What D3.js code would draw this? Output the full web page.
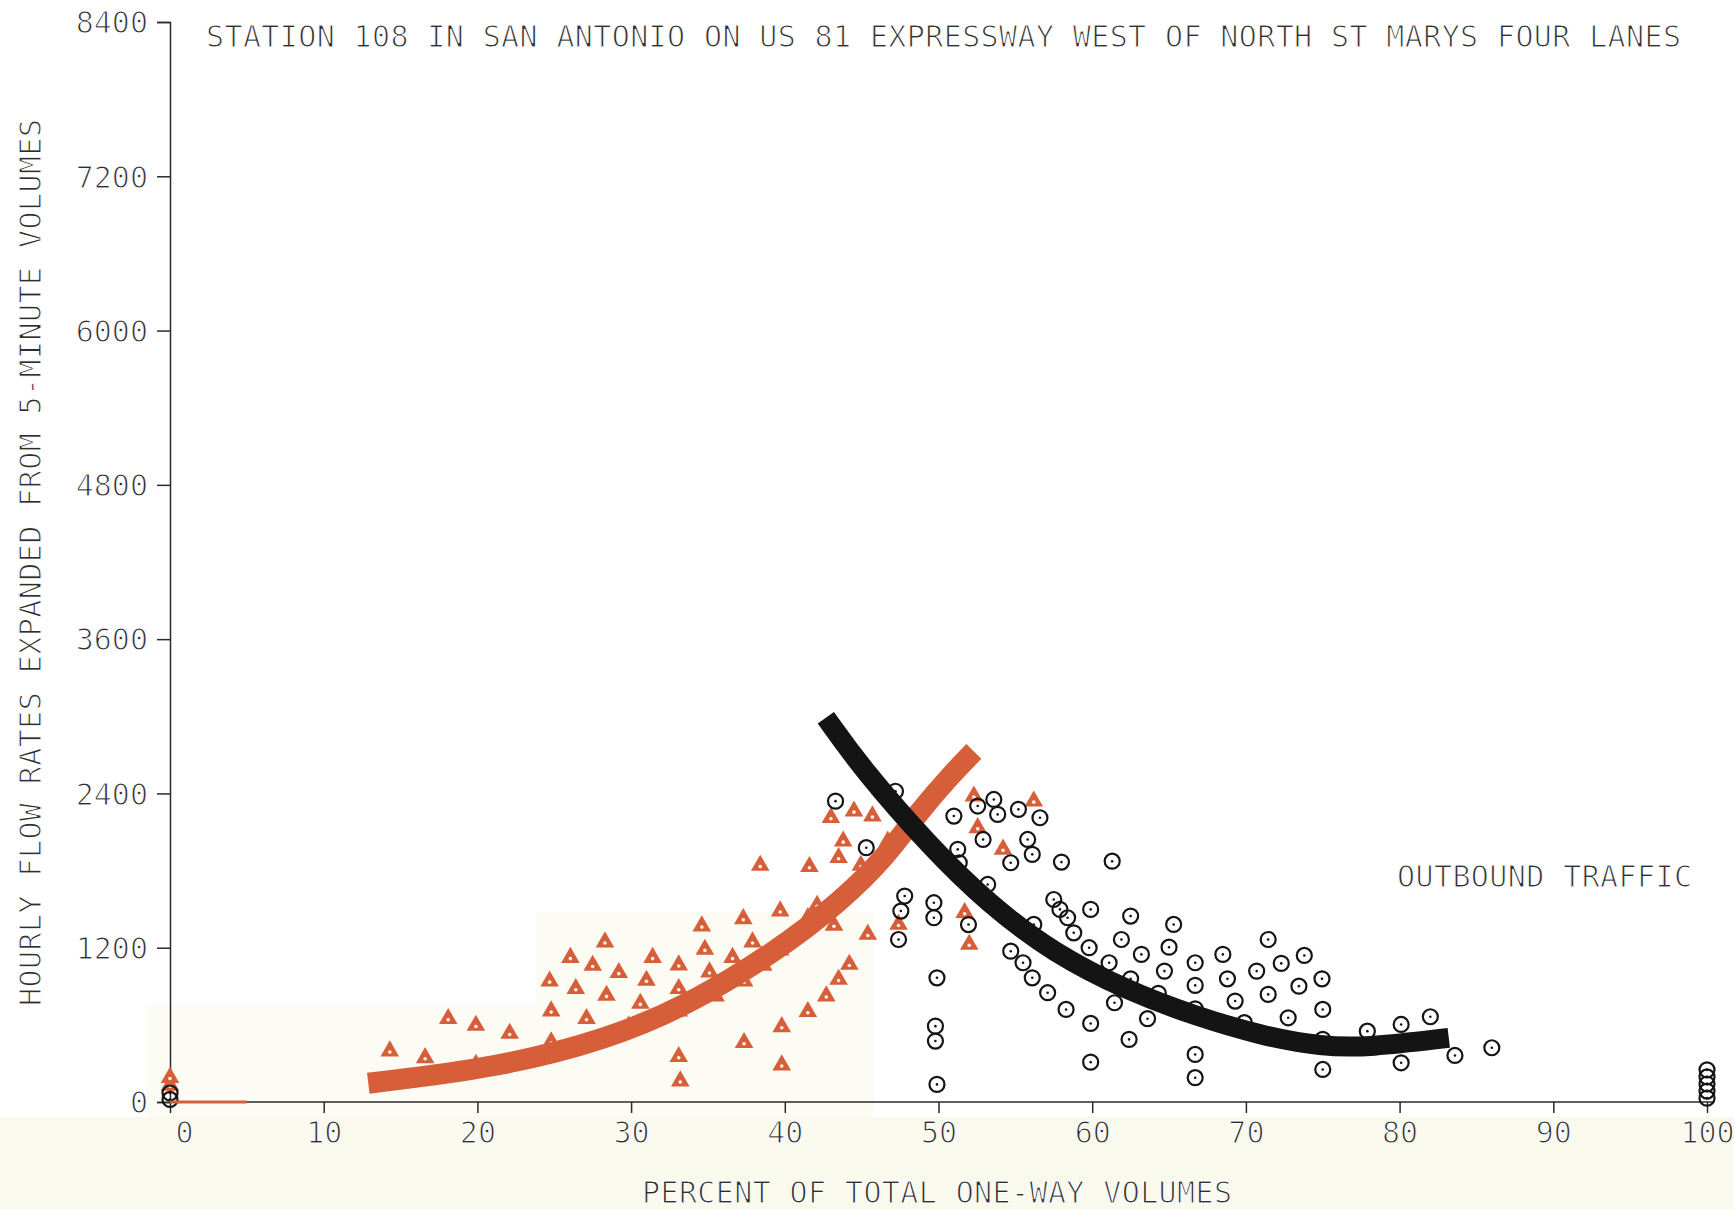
<!DOCTYPE html>
<html>
<head>
<meta charset="utf-8">
<script src="https://cdn.jsdelivr.net/npm/d3@7"></script>
<style>
  html, body { margin: 0; padding: 0; background: #ffffff; }
  /* thin white outline trims the glyph strokes to a plotter-pen weight */
  svg text { font-family: "DejaVu Sans Mono", monospace; fill: #2e2e2e; stroke: #ffffff; stroke-width: 1.1px; paint-order: stroke fill; }
  svg text { paint-order: normal; }
</style>
</head>
<body>
<svg id="chart" width="1734" height="1209"></svg>
<script>
// Axis ticks
const xTicks = [0, 10, 20, 30, 40, 50, 60, 70, 80, 90, 100];
const yTicks = [0, 1200, 2400, 3600, 4800, 6000, 7200, 8400];

// Text
const titleText = "STATION 108 IN SAN ANTONIO ON US 81 EXPRESSWAY WEST OF NORTH ST MARYS FOUR LANES";
const xTitle = "PERCENT OF TOTAL ONE-WAY VOLUMES";
const yTitle = "HOURLY FLOW RATES EXPANDED FROM 5-MINUTE VOLUMES";
const seriesLabel = "OUTBOUND TRAFFIC";

// Inbound observations: [percent of one-way volume, hourly flow rate]
const inboundPoints = [
  [0, 130], [0, 190],
  [14.3, 396], [16.6, 344], [18.1, 648], [19.9, 595], [19.9, 292], [22.1, 533],
  [24.8, 466], [24.8, 707], [24.7, 940], [26.05, 1123], [26.4, 881], [27.1, 648],
  [27.5, 1062], [28.3, 1244], [28.4, 829], [29.2, 1006], [29.85, 590], [30.6, 767],
  [31.0, 946], [31.4, 1123], [33.1, 1065], [33.1, 881], [33.1, 707], [33.1, 352],
  [33.2, 163], [34.6, 1368], [34.8, 1187], [35.1, 1011], [35.5, 824], [36.6, 1123],
  [37.3, 1425], [37.35, 940], [37.35, 461], [37.9, 1244], [38.4, 1840], [38.6, 1062],
  [39.7, 1181], [39.7, 1485], [39.8, 585], [39.8, 287], [40.7, 1309], [41.5, 1433],
  [41.6, 1830], [41.5, 702], [42.1, 1529], [42.7, 824], [43.2, 1374], [43.0, 2211],
  [43.5, 953], [43.8, 2029], [43.5, 1900], [44.2, 1070], [44.5, 2262], [44.95, 1840],
  [45.7, 2224], [46.7, 2029], [45.4, 1303], [47.4, 1381], [51.7, 1472], [52.0, 1226],
  [52.3, 2379], [52.55, 2133], [54.2, 1965], [56.2, 2340]
];

// Outbound observations: [percent of one-way volume, hourly flow rate]
const outboundPoints = [
  [0, 20], [0, 70],
  [43.3, 2340], [45.3, 1978], [47.2, 2417], [47.8, 1602], [47.55, 1485], [47.4, 1264],
  [49.7, 1550], [49.7, 1433], [49.9, 966], [49.8, 590], [49.8, 474], [49.9, 137],
  [51.95, 1380], [51.0, 2224], [51.25, 1965], [52.55, 2302], [53.2, 1692], [52.9, 2042],
  [53.6, 2353], [53.85, 2237], [55.2, 2276], [56.6, 2211], [55.8, 2042], [56.1, 1926],
  [54.7, 1861], [58.0, 1866], [51.35, 1861], [54.7, 1173], [55.5, 1083], [56.1, 966],
  [57.1, 850], [58.3, 720], [56.2, 1381], [57.5, 1575], [57.9, 1498], [58.4, 1433],
  [58.8, 1316], [59.8, 1200], [59.9, 1498], [61.3, 1873], [62.5, 1446], [65.3, 1381],
  [61.9, 1264], [63.2, 1148], [65.0, 1204], [61.1, 1083], [64.7, 1018], [62.5, 958],
  [64.3, 845], [61.45, 772], [63.6, 648], [66.7, 1083], [66.7, 907], [66.7, 725],
  [66.7, 370], [66.7, 189], [59.9, 611], [62.4, 487], [59.9, 310], [68.5, 1148],
  [68.8, 958], [69.3, 785], [69.9, 617], [70.7, 1018], [71.45, 1264], [71.45, 837],
  [72.3, 1078], [72.75, 655], [73.45, 901], [73.8, 1140], [74.95, 958], [75.0, 720],
  [75.0, 487], [75.0, 253], [77.9, 551], [80.1, 603], [82.0, 663], [80.1, 305],
  [83.6, 362], [86.0, 422],
  [100, 30], [100, 85], [100, 140], [100, 195], [100, 250]
];

// Fitted curves drawn as broad bands
const inboundFit = [
  [12.9, 146], [21.3, 267], [28.5, 490], [33.6, 748], [39.35, 1161],
  [43.7, 1566], [46.6, 1910], [48.7, 2254], [50.9, 2555], [52.3, 2727]
];
const outboundFit = [
  [42.67, 2989], [45.05, 2589], [49.5, 1980], [53.2, 1548], [57.5, 1155],
  [62.3, 866], [66.65, 671], [71.0, 516], [74.95, 430], [78.0, 425], [83.2, 499]
];
// Short inbound trace lying on the baseline
const inboundBase = [[0, 0], [5, 0]];

const ORANGE = "#d65f3a";
const INK = "#141414";

const svg = d3.select("#chart");
const x = d3.scaleLinear().domain([0, 100]).range([170, 1707]);
const y = d3.scaleLinear().domain([0, 8400]).range([1102, 22]);

// paper tint near the bottom of the sheet
svg.append("rect").attr("x", 0).attr("y", 1117).attr("width", 1734).attr("height", 92).attr("fill", "#f9f9ee");
svg.append("rect").attr("x", 147).attr("y", 1004).attr("width", 727).attr("height", 113).attr("fill", "#fcfcf5");
svg.append("rect").attr("x", 536).attr("y", 912).attr("width", 338).attr("height", 92).attr("fill", "#fcfcf5");

// Axes
const xAxis = d3.axisBottom(x).tickValues(xTicks).tickSize(11).tickFormat(d3.format("d"));
const yAxis = d3.axisLeft(y).tickValues(yTicks).tickSize(13).tickFormat(d3.format("d"));

const gx = svg.append("g").attr("transform", `translate(0,${y(0)})`).call(xAxis);
const gy = svg.append("g").attr("transform", `translate(${x(0)},0)`).call(yAxis);

[gx, gy].forEach(g => {
  g.select(".domain").attr("stroke", "#2a2a2a").attr("stroke-width", 1.5);
  g.selectAll(".tick line").attr("stroke", "#2a2a2a").attr("stroke-width", 1.5);
  g.selectAll(".tick text").attr("font-family", "DejaVu Sans Mono").attr("font-size", 30)
    .attr("fill", "#2e2e2e").attr("stroke", "#ffffff").attr("stroke-width", 1.1);
});
gx.select(".domain").attr("d", `M${x(0)},0H${x(100) + 6}`);
gx.selectAll(".tick text").attr("y", 20).attr("dy", "0.71em");
gx.selectAll(".tick text").filter(d => d === 0).attr("dx", 14);
gy.selectAll(".tick text").attr("x", -22).attr("dy", "0.36em");

// Observations
const triangle = d3.symbol().type(d3.symbolTriangle).size(150);
const gIn = svg.append("g");
gIn.selectAll("path").data(inboundPoints).join("path")
  .attr("d", triangle)
  .attr("transform", d => `translate(${x(d[0])},${y(d[1])})`)
  .attr("fill", ORANGE);
gIn.selectAll("circle").data(inboundPoints).join("circle")
  .attr("cx", d => x(d[0])).attr("cy", d => y(d[1]) + 1)
  .attr("r", 1.8).attr("fill", "#fff6f0");

const gOut = svg.append("g");
gOut.selectAll("circle.ring").data(outboundPoints).join("circle")
  .attr("class", "ring")
  .attr("cx", d => x(d[0])).attr("cy", d => y(d[1]))
  .attr("r", 7.5).attr("fill", "none").attr("stroke", INK).attr("stroke-width", 2.2);
gOut.selectAll("circle.dot").data(outboundPoints).join("circle")
  .attr("class", "dot")
  .attr("cx", d => x(d[0])).attr("cy", d => y(d[1]))
  .attr("r", 1.3).attr("fill", INK);

// Fitted bands
const smooth = d3.line().x(d => x(d[0])).y(d => y(d[1])).curve(d3.curveBasis);
const straight = d3.line().x(d => x(d[0])).y(d => y(d[1]));
svg.append("path").datum(inboundBase).attr("d", straight)
  .attr("fill", "none").attr("stroke", ORANGE).attr("stroke-width", 3);
svg.append("path").datum(inboundFit).attr("d", smooth)
  .attr("fill", "none").attr("stroke", ORANGE).attr("stroke-width", 21).attr("stroke-linecap", "butt");
svg.append("path").datum(outboundFit).attr("d", smooth)
  .attr("fill", "none").attr("stroke", INK).attr("stroke-width", 20).attr("stroke-linecap", "butt");

// Titles and labels
svg.append("text").attr("x", 206).attr("y", 47)
  .attr("font-size", 30).attr("textLength", 1475).attr("lengthAdjust", "spacing")
  .text(titleText);

svg.append("text").attr("x", 642).attr("y", 1203)
  .attr("font-size", 30).attr("textLength", 590).attr("lengthAdjust", "spacing")
  .text(xTitle);

svg.append("text").attr("transform", "translate(41,1006) rotate(-90)")
  .attr("font-size", 30).attr("textLength", 887).attr("lengthAdjust", "spacing")
  .text(yTitle);

svg.append("text").attr("x", 1397).attr("y", 887)
  .attr("font-size", 30).attr("textLength", 295).attr("lengthAdjust", "spacing")
  .text(seriesLabel);
</script>
</body>
</html>
